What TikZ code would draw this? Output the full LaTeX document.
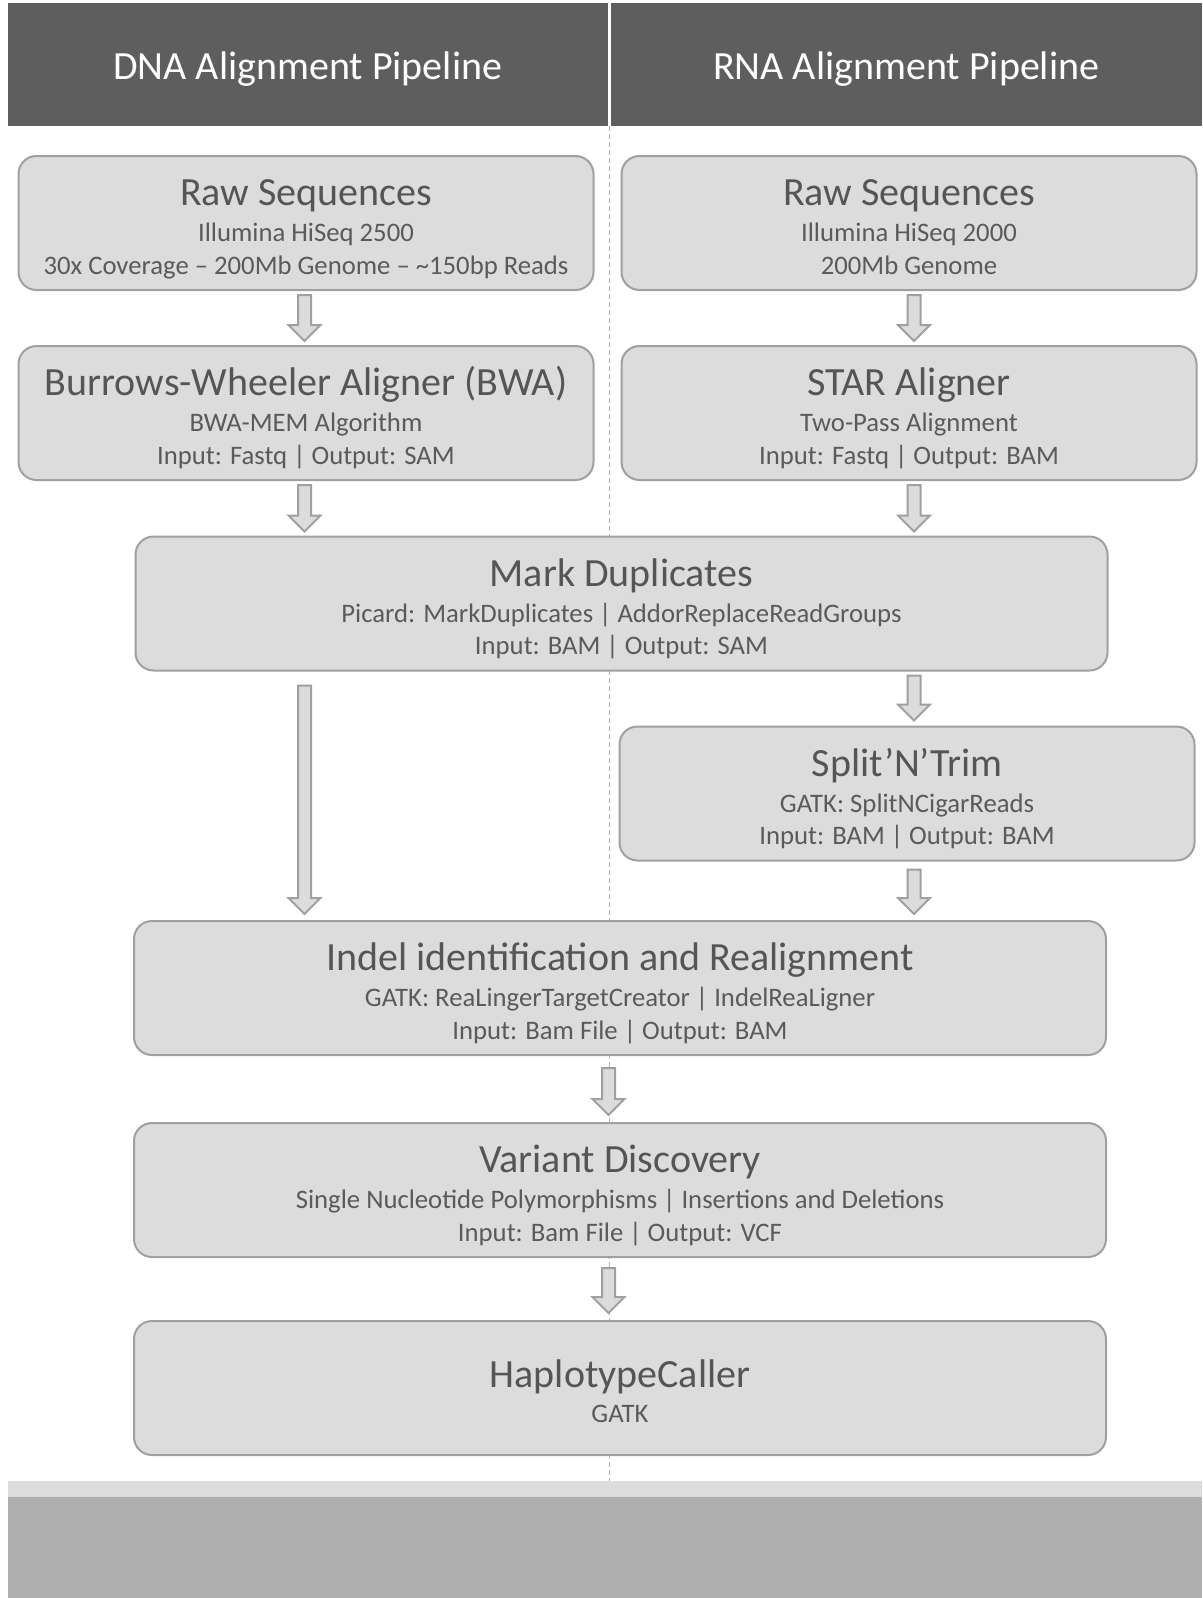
\documentclass[tikz,border=0pt]{standalone}
\usepackage{fontspec}
\setmainfont{Carlito}
\usetikzlibrary{calc, positioning}

\definecolor{headgray}{HTML}{5E5E5E}
\definecolor{boxgray}{HTML}{DCDCDC}
\definecolor{edgegray}{HTML}{A0A0A0}
\definecolor{titlegray}{HTML}{555555}
\definecolor{subgray}{HTML}{5A5A5A}
\definecolor{dashgray}{HTML}{B4B4B4}
\definecolor{bandlight}{HTML}{DCDCDC}
\definecolor{banddark}{HTML}{AFAFAF}

\newcommand{\titlefont}{\fontsize{40}{46}\selectfont\color{titlegray}}
\newcommand{\subfont}{\fontsize{26.7}{32.6}\selectfont}
\newcommand{\stagetext}[2]{{\titlefont\rule{0pt}{42pt}#1}\\[3pt]#2\rule[-8pt]{0pt}{8pt}}

\begin{document}
\begin{tikzpicture}[
    x=1pt, y=-1pt,
    % Style definitions
    header/.style={fill=headgray, text=white, minimum height=123pt, inner sep=0pt, text height=38pt, text depth=9pt, font=\fontsize{40}{44}\selectfont},
    stage/.style={draw=edgegray, fill=boxgray, line width=2pt, rounded corners=18pt, minimum height=134pt, align=center, text=subgray, font=\subfont, inner sep=0pt},
    sidebox/.style={stage, minimum width=575pt},
    widebox/.style={stage, minimum width=972pt},
    divider/.style={draw=dashgray, line width=1pt, dash pattern=on 5pt off 3pt},
    blockarrow/.style={draw=edgegray, fill=boxgray, line width=2pt,
      to path={let \p1=(\tikztostart), \p2=(\tikztotarget) in
        (\x1-6.5pt,\y1) -- (\x1+6.5pt,\y1) -- (\x1+6.5pt,\y2+16pt) -- (\x1+16pt,\y2+16pt)
        -- (\x1,\y2) -- (\x1-16pt,\y2+16pt) -- (\x1-6.5pt,\y2+16pt) -- cycle}},
]

\useasboundingbox[fill=white] (0,0) rectangle (1202,1598);

%% ---------- COLUMNS ----------
\coordinate (dnacol) at (304.5,0);
\coordinate (rnacol) at (914,0);
\coordinate (midcol) at (608.5,0);
\coordinate (divtop) at (609,126);
\coordinate (divbot) at (609,1481);

\draw[divider] (divtop) -- (divbot);

%% ---------- HEADER ----------
\node[header, minimum width=599.5pt] (dna_head) at (307.75,64.5) {DNA Alignment Pipeline};
\node[header, minimum width=591.5pt] (rna_head) at (906.25,64.5) {RNA Alignment Pipeline};

%% ---------- DNA / RNA BRANCHES ----------
\node[sidebox] (dna_raw) at (306,223) {\stagetext{Raw Sequences}{Illumina HiSeq 2500\\30x Coverage – 200Mb Genome – \textasciitilde150bp Reads}};
\node[sidebox] (rna_raw) at (909,223) {\stagetext{Raw Sequences}{Illumina HiSeq 2000\\200Mb Genome}};
\node[sidebox, below=54pt of dna_raw] (dna_bwa) {\stagetext{Burrows-Wheeler Aligner (BWA)}{BWA-MEM Algorithm\\Input: Fastq | Output: SAM}};
\node[sidebox, below=54pt of rna_raw] (rna_star) {\stagetext{STAR Aligner}{Two-Pass Alignment\\Input: Fastq | Output: BAM}};

%% ---------- SHARED STAGES ----------
\node[widebox] (markdup) at (621.5,603.5) {\stagetext{Mark Duplicates}{Picard: MarkDuplicates | AddorReplaceReadGroups\\Input: BAM | Output: SAM}};
\node[sidebox] (splittrim) at (907,793.5) {\stagetext{Split’N’Trim}{GATK: SplitNCigarReads\\Input: BAM | Output: BAM}};
\node[widebox] (indel) at (620,988) {\stagetext{Indel identification and Realignment}{GATK: ReaLingerTargetCreator | IndelReaLigner\\Input: Bam File | Output: BAM}};
\node[widebox, below=66pt of indel] (variant) {\stagetext{Variant Discovery}{Single Nucleotide Polymorphisms | Insertions and Deletions\\Input: Bam File | Output: VCF}};
\node[widebox, below=62pt of variant] (haplo) {\stagetext{HaplotypeCaller}{GATK}};

%% ========== ARROWS ==========
\draw[blockarrow] ([yshift=-4pt]dna_raw.south -| dnacol) to ([yshift=4pt]dna_bwa.north -| dnacol);
\draw[blockarrow] ([yshift=-4pt]rna_raw.south -| rnacol) to ([yshift=4pt]rna_star.north -| rnacol);
\draw[blockarrow] ([yshift=-4pt]dna_bwa.south -| dnacol) to ([yshift=4pt]markdup.north -| dnacol);
\draw[blockarrow] ([yshift=-4pt]rna_star.south -| rnacol) to ([yshift=4pt]markdup.north -| rnacol);
\draw[blockarrow] ([yshift=-14pt]markdup.south -| dnacol) to ([yshift=6pt]indel.north -| dnacol);
\draw[blockarrow] ([yshift=-4pt]markdup.south -| rnacol) to ([yshift=5pt]splittrim.north -| rnacol);
\draw[blockarrow] ([yshift=-8pt]splittrim.south -| rnacol) to ([yshift=6pt]indel.north -| rnacol);
\draw[blockarrow] ([yshift=-12pt]indel.south -| midcol) to ([yshift=7pt]variant.north -| midcol);
\draw[blockarrow] ([yshift=-10pt]variant.south -| midcol) to ([yshift=7pt]haplo.north -| midcol);

%% ---------- FOOTER BANDS ----------
\fill[bandlight] (8,1481) rectangle (1202,1497);
\fill[banddark] (8,1497) rectangle (1202,1598);

\end{tikzpicture}
\end{document}
